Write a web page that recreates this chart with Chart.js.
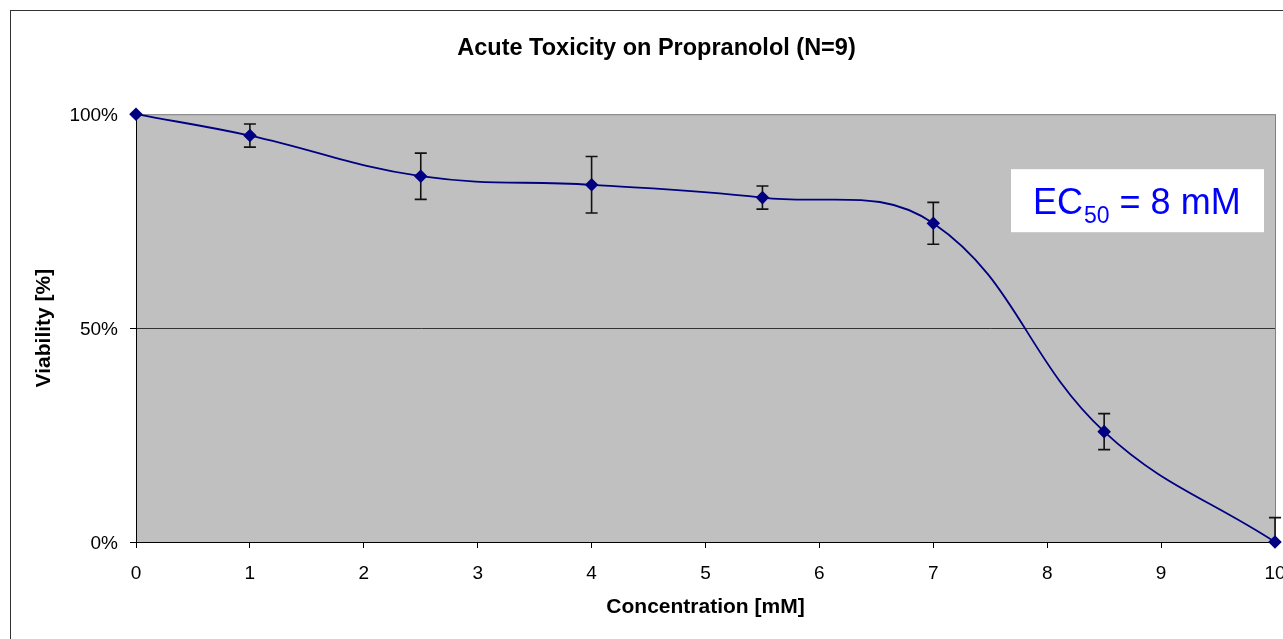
<!DOCTYPE html>
<html>
<head>
<meta charset="utf-8">
<script src="https://cdn.jsdelivr.net/npm/chart.js@4"></script>
<style>
    html, body { margin: 0; padding: 0; background: #fff; }
    #wrap { width: 1283px; height: 639px; position: relative; }
</style>
</head>
<body>
<div id="wrap"><canvas id="toxChart"></canvas></div>
<script>
// concentrations [mM], mean viability [%] and +/- error
const concentrations = [0, 1, 2.5, 4, 5.5, 7, 8.5, 10];
const viability = [100, 95, 85.5, 83.5, 80.5, 74.5, 25.8, 0];
const errors = [0, 2.7, 5.4, 6.6, 2.7, 4.9, 4.2, 5.7];
const yTicks = [0, 50, 100];

const FONT = "Arial, 'Liberation Sans', sans-serif";

// grey plot area + outer frame
const backgroundPlugin = {
    id: 'background',
    beforeDraw(chart) {
        const { ctx, chartArea: a } = chart;
        ctx.save();
        ctx.fillStyle = '#fff';
        ctx.fillRect(0, 0, chart.width, chart.height);
        ctx.strokeStyle = '#333';
        ctx.lineWidth = 1;
        ctx.strokeRect(10.5, 10.5, chart.width + 20, chart.height + 20);
        ctx.fillStyle = '#C0C0C0';
        ctx.fillRect(a.left, a.top, a.right - a.left, a.bottom - a.top);
        ctx.strokeStyle = '#808080';
        ctx.strokeRect(a.left + 0.5, a.top + 0.5, a.right - a.left, a.bottom - a.top);
        ctx.restore();
    }
};

// vertical error bars, using the chart scales
const errorBarPlugin = {
    id: 'errorBars',
    beforeDatasetsDraw(chart) {
        const { ctx, chartArea: a, scales } = chart;
        ctx.save();
        ctx.beginPath();
        ctx.rect(0, a.top - 1, chart.width, a.bottom - a.top + 2);
        ctx.clip();
        ctx.strokeStyle = '#111';
        ctx.lineWidth = 1.6;
        concentrations.forEach((c, i) => {
            if (!errors[i]) return;
            const x = scales.x.getPixelForValue(c);
            const yHi = scales.y.getPixelForValue(viability[i] + errors[i]);
            const yLo = scales.y.getPixelForValue(viability[i] - errors[i]);
            ctx.beginPath();
            ctx.moveTo(x, yHi); ctx.lineTo(x, yLo);
            ctx.moveTo(x - 6, yHi); ctx.lineTo(x + 6, yHi);
            ctx.moveTo(x - 6, yLo); ctx.lineTo(x + 6, yLo);
            ctx.stroke();
        });
        ctx.restore();
    }
};

// EC50 label box
const ecPlugin = {
    id: 'ecLabel',
    afterDraw(chart) {
        const { ctx, chartArea: a } = chart;
        const right = a.right - 11, top = a.top + 55;
        const w = 253, h = 63;
        ctx.save();
        ctx.fillStyle = '#fff';
        ctx.fillRect(right - w, top, w, h);
        ctx.fillStyle = '#0000FF';
        ctx.textBaseline = 'alphabetic';
        let x = right - w + 22;
        const base = top + 45;
        ctx.font = '36px ' + FONT;
        ctx.fillText('EC', x, base);
        x += ctx.measureText('EC').width + 1;
        ctx.font = '23px ' + FONT;
        ctx.fillText('50', x, base + 9);
        x += ctx.measureText('50').width;
        ctx.font = '36px ' + FONT;
        ctx.fillText(' = 8 mM', x, base);
        ctx.restore();
    }
};

document.addEventListener("DOMContentLoaded", function() {
    const ctx = document.getElementById('toxChart').getContext('2d');
    new Chart(ctx, {
        type: 'line',
        data: {
            datasets: [{
                label: 'Viability',
                data: concentrations.map((c, i) => ({ x: c, y: viability[i] })),
                borderColor: '#000080',
                backgroundColor: '#000080',
                borderWidth: 1.8,
                tension: 0.4,
                pointStyle: 'rectRot',
                pointRadius: 5.5,
                pointHoverRadius: 5.5,
                clip: false
            }]
        },
        options: {
            responsive: true,
            maintainAspectRatio: false,
            animation: false,
            events: [],
            layout: { padding: { left: 38, right: 8, top: 0, bottom: 0 } },
            plugins: {
                legend: { display: false },
                tooltip: { enabled: false },
                title: {
                    display: true,
                    text: 'Acute Toxicity on Propranolol (N=9)',
                    color: '#000',
                    font: { family: FONT, size: 23.5, weight: 'bold', lineHeight: 1.2 },
                    padding: { top: 34, bottom: 52 }
                }
            },
            scales: {
                x: {
                    type: 'linear',
                    min: 0,
                    max: 10,
                    ticks: {
                        stepSize: 1,
                        color: '#000',
                        font: { family: FONT, size: 19 },
                        padding: 14,
                        maxRotation: 0
                    },
                    grid: { drawOnChartArea: false, tickLength: 6, tickColor: '#000' },
                    border: { color: '#000', width: 1 },
                    title: {
                        display: true,
                        text: 'Concentration [mM]',
                        color: '#000',
                        font: { family: FONT, size: 21, weight: 'bold', lineHeight: 1.2 },
                        padding: { top: 0, bottom: 19 }
                    },
                    afterFit(scale) {
                        scale.height = 97;
                        scale.paddingRight = 0;
                    }
                },
                y: {
                    min: 0,
                    max: 100,
                    afterBuildTicks(scale) {
                        scale.ticks = yTicks.map(v => ({ value: v }));
                    },
                    ticks: {
                        color: '#000',
                        font: { family: FONT, size: 19 },
                        padding: 12,
                        labelOffset: 2,
                        callback: v => v + '%'
                    },
                    grid: {
                        color: c => (c.tick && c.tick.value === 50) ? '#333' : 'rgba(0,0,0,0)',
                        tickColor: '#000',
                        tickLength: 6
                    },
                    border: { color: '#000', width: 1 },
                    title: {
                        display: true,
                        text: 'Viability [%]',
                        color: '#000',
                        font: { family: FONT, size: 21, weight: 'bold', lineHeight: 1.2 },
                        padding: { top: -6, bottom: 0 }
                    },
                    afterFit(scale) {
                        scale.width = 98;
                    }
                }
            }
        },
        plugins: [backgroundPlugin, errorBarPlugin, ecPlugin]
    });
});
</script>
</body>
</html>
